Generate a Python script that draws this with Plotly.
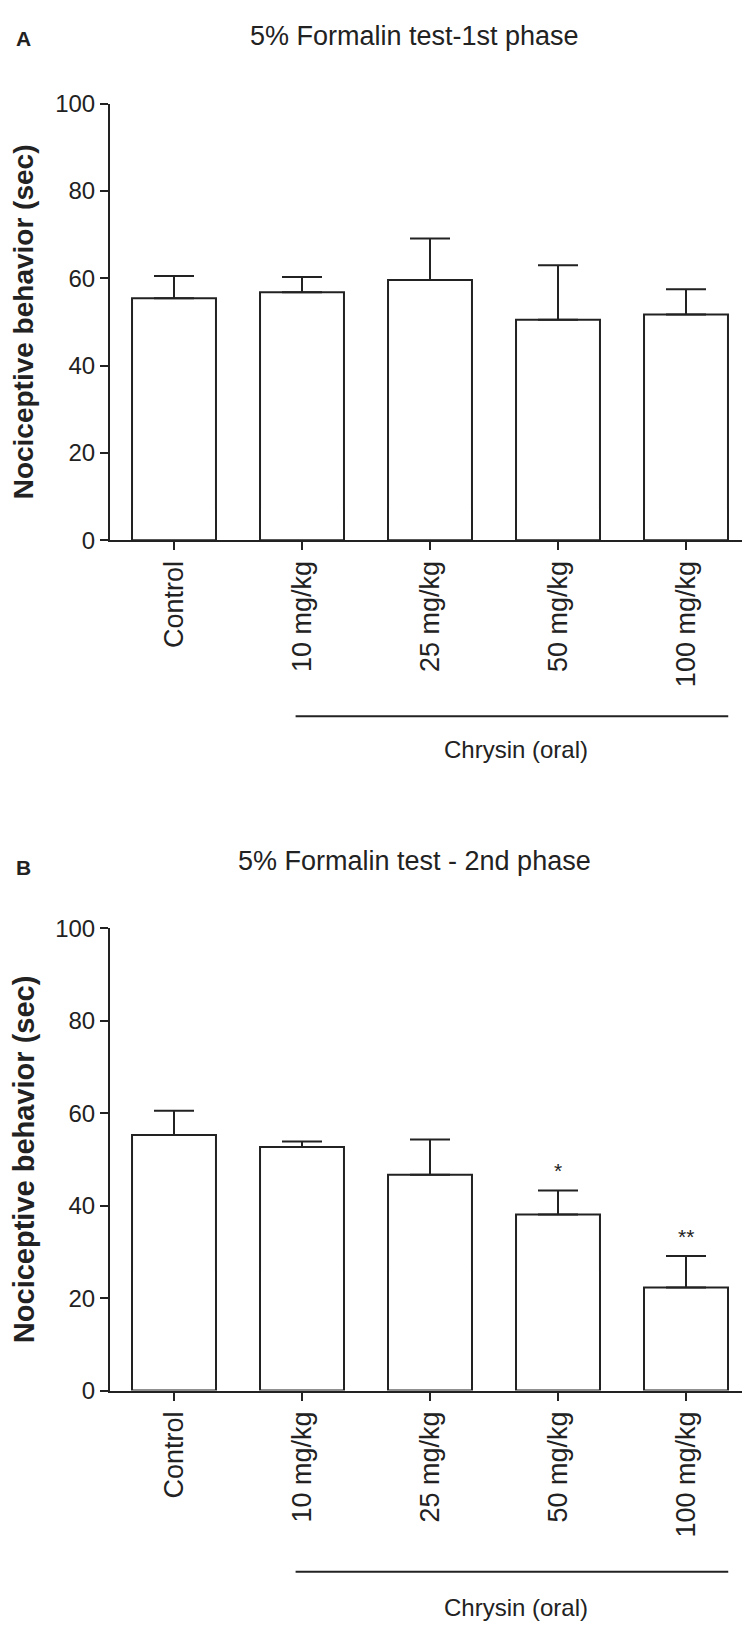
import plotly.graph_objects as go

groups = ["Control", "10 mg/kg", "25 mg/kg", "50 mg/kg", "100 mg/kg"]
phase1_mean = [55.4, 56.8, 59.6, 50.5, 51.7]
phase1_sem = [5.1, 3.5, 9.5, 12.5, 5.8]
phase2_mean = [55.3, 52.7, 46.7, 38.1, 22.3]
phase2_sem = [5.2, 1.2, 7.6, 5.2, 6.8]
phase2_stars = ["", "", "", "*", "**"]
y_ticks = [0, 20, 40, 60, 80, 100]

W, H = 750, 1627
INK = "#222222"
FONT = "Arial, Liberation Sans, sans-serif"


def py(pix):
    # pixel row -> paper y
    return 1 - pix / H


fig = go.Figure()

for i, (mean, sem) in enumerate([(phase1_mean, phase1_sem), (phase2_mean, phase2_sem)]):
    fig.add_trace(
        go.Bar(
            x=list(range(len(groups))),
            y=mean,
            width=0.656,
            marker=dict(color="white", line=dict(color=INK, width=2)),
            error_y=dict(
                type="data",
                array=sem,
                arrayminus=[0] * len(sem),
                symmetric=False,
                color=INK,
                thickness=2,
                width=20,
            ),
            xaxis="x" if i == 0 else "x2",
            yaxis="y" if i == 0 else "y2",
            showlegend=False,
        )
    )

axis_common = dict(
    showline=True,
    linecolor=INK,
    linewidth=2,
    ticks="outside",
    tickcolor=INK,
    tickwidth=2,
    ticklen=8,
    showgrid=False,
    zeroline=False,
)

xdom = [102 / W, 742 / W]
fig.update_layout(
    width=W,
    height=H,
    margin=dict(l=0, r=0, t=0, b=0),
    paper_bgcolor="white",
    plot_bgcolor="white",
    font=dict(family=FONT, color=INK),
    xaxis=dict(
        **axis_common,
        domain=xdom,
        range=[-0.5, 4.5],
        tickvals=list(range(len(groups))),
        ticktext=groups,
        tickangle=-90,
        tickfont=dict(size=27),
        anchor="y",
    ),
    yaxis=dict(
        **axis_common,
        domain=[py(527), py(83)],
        range=[0, 100],
        tickvals=y_ticks,
        tickfont=dict(size=24),
        anchor="x",
        title=dict(text="<b>Nociceptive behavior (sec)</b>", font=dict(size=28), standoff=20),
    ),
    xaxis2=dict(
        **axis_common,
        domain=xdom,
        range=[-0.5, 4.5],
        tickvals=list(range(len(groups))),
        ticktext=groups,
        tickangle=-90,
        tickfont=dict(size=27),
        anchor="y2",
    ),
    yaxis2=dict(
        **axis_common,
        domain=[py(1391.7), py(921.5)],
        range=[0, 100],
        tickvals=y_ticks,
        tickfont=dict(size=24),
        anchor="x2",
        title=dict(text="<b>Nociceptive behavior (sec)</b>", font=dict(size=29), standoff=20),
    ),
)


def label(text, xp, yp, size):
    fig.add_annotation(text=text, x=xp / W, y=py(yp), xref="paper", yref="paper",
                       xanchor="center", yanchor="middle", showarrow=False,
                       font=dict(size=size))


# panel letters and titles
label("<b>A</b>", 15, 17, 21)
label("5% Formalin test-1st phase", 406, 14, 27)
label("<b>B</b>", 15, 860, 21)
label("5% Formalin test - 2nd phase", 406, 853, 27)

# treatment bracket line under dose groups
for xr, line_y, lab_y in [("x", 706, 740), ("x2", 1576, 1612)]:
    fig.add_shape(type="line", xref=xr, yref="paper", x0=0.95, x1=4.33,
                  y0=py(line_y), y1=py(line_y), line=dict(color=INK, width=2))
    label("Chrysin (oral)", 508, lab_y, 24)

# significance marks
for i, s in enumerate(phase2_stars):
    if s:
        fig.add_annotation(text=s, x=i, y=phase2_mean[i] + phase2_sem[i], xref="x2", yref="y2",
                           showarrow=False, yanchor="bottom", yshift=6, font=dict(size=21))

fig.write_html("out.html")
